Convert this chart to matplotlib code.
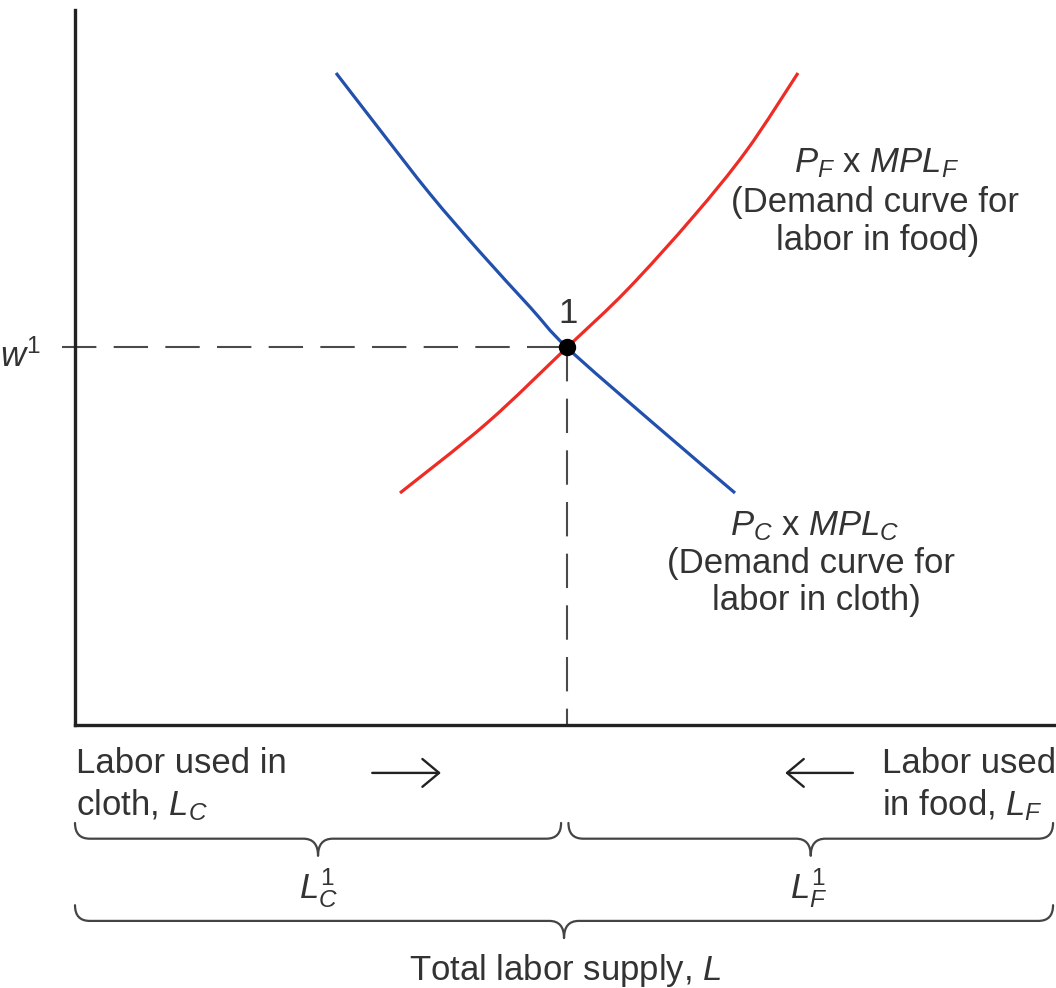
import matplotlib
matplotlib.use("Agg")
import matplotlib.pyplot as plt
from matplotlib.path import Path
from matplotlib.patches import PathPatch

plt.rcParams['font.family'] = ['Liberation Sans', 'DejaVu Sans']
plt.rcParams['mathtext.fontset'] = 'custom'
plt.rcParams['mathtext.rm'] = 'Liberation Sans'
plt.rcParams['mathtext.it'] = 'Liberation Sans:italic'
plt.rcParams['mathtext.bf'] = 'Liberation Sans:bold'

# ---- data (labor on x, wage on y) ----
L_TOTAL = 100.0
L_C1 = 50.15         # equilibrium labor in cloth
W1 = 52.8            # equilibrium wage

cloth_x = [26.61, 31.09, 36.19, 41.28, 46.38, 50.15, 58.92, 67.28]
cloth_y = [91.19, 83.22, 74.27, 66.15, 58.46, 52.80, 42.24, 32.45]

food_x = [33.13, 42.00, 50.15, 56.27, 63.00, 68.50, 73.70]
food_y = [32.45, 42.24, 52.80, 60.84, 71.05, 80.42, 91.19]

TXT = '#333333'
AX = '#222222'
DASH = '#4a4a4a'
BLUE = '#2150ad'
RED = '#ee2b24'
FS = 25

fig = plt.figure(figsize=(10.56, 9.88), dpi=100)
ax = fig.add_axes([75 / 1056, 263 / 988, 981 / 1056, 715 / 988])
ax.set_xlim(0, L_TOTAL)
ax.set_ylim(0, 100)
for s in ['top', 'right']:
    ax.spines[s].set_visible(False)
for s in ['left', 'bottom']:
    ax.spines[s].set_linewidth(2.4)
    ax.spines[s].set_color(AX)
ax.set_xticks([])
ax.set_yticks([])


def smooth_curve(xs, ys, color):
    """Draw a smooth (Catmull-Rom) curve through the given points."""
    pts = list(zip(xs, ys))
    n = len(pts)
    verts = [pts[0]]
    codes = [Path.MOVETO]
    for i in range(n - 1):
        p0 = pts[i - 1] if i > 0 else pts[i]
        p1 = pts[i]
        p2 = pts[i + 1]
        p3 = pts[i + 2] if i + 2 < n else pts[i + 1]
        c1 = (p1[0] + (p2[0] - p0[0]) / 6, p1[1] + (p2[1] - p0[1]) / 6)
        c2 = (p2[0] - (p3[0] - p1[0]) / 6, p2[1] - (p3[1] - p1[1]) / 6)
        verts += [c1, c2, p2]
        codes += [Path.CURVE4] * 3
    ax.add_patch(PathPatch(Path(verts, codes), fill=False, ec=color, lw=2.3,
                           capstyle='butt', zorder=3))


smooth_curve(cloth_x, cloth_y, BLUE)
smooth_curve(food_x, food_y, RED)

# dashed guides
ax.plot([-1.35, L_C1], [W1, W1], color=DASH, lw=1.5,
        linestyle=(0, (16.5, 8.3)), clip_on=False, zorder=2)
ax.plot([L_C1, L_C1], [W1, 0], color=DASH, lw=1.5,
        linestyle=(0, (16.5, 8.3)), zorder=2)

# equilibrium point
ax.plot([L_C1], [W1], 'o', color='black', ms=11.5, zorder=5)
ax.text(L_C1 + 0.1, W1 + 3.4, '1', fontsize=FS, color=TXT, ha='center',
        va='baseline')

# w^1
ax.text(-3.5, W1 - 2.7, r'$w^1$', fontsize=FS, color=TXT, ha='right',
        va='baseline', clip_on=False)

# curve labels
ax.text(81.7, 77.3, r'$P_F$ x $MPL_F$', fontsize=FS, color=TXT, ha='center',
        va='baseline')
ax.text(81.6, 71.7, '(Demand curve for', fontsize=FS, color=TXT, ha='center',
        va='baseline')
ax.text(81.8, 66.4, 'labor in food)', fontsize=FS, color=TXT, ha='center',
        va='baseline')

ax.text(75.4, 26.6, r'$P_C$ x $MPL_C$', fontsize=FS, color=TXT, ha='center',
        va='baseline')
ax.text(75.0, 21.3, '(Demand curve for', fontsize=FS, color=TXT, ha='center',
        va='baseline')
ax.text(75.6, 16.1, 'labor in cloth)', fontsize=FS, color=TXT, ha='center',
        va='baseline')

# bottom labels
ax.text(0.1, -6.7, 'Labor used in', fontsize=FS, color=TXT, ha='left',
        va='baseline', clip_on=False)
ax.text(0.1, -12.6, r'cloth, $L_C$', fontsize=FS, color=TXT, ha='left',
        va='baseline', clip_on=False)
ax.text(82.3, -6.7, 'Labor used', fontsize=FS, color=TXT, ha='left',
        va='baseline', clip_on=False)
ax.text(82.3, -12.6, r'in food, $L_F$', fontsize=FS, color=TXT, ha='left',
        va='baseline', clip_on=False)

arrow_kw = dict(arrowstyle='->,head_length=0.6,head_width=0.5', lw=1.7,
                color=AX, shrinkA=0, shrinkB=0, mutation_scale=20)
ax.annotate('', xy=(37.3, -6.7), xytext=(30.3, -6.7), arrowprops=arrow_kw,
            annotation_clip=False)
ax.annotate('', xy=(72.4, -6.7), xytext=(79.3, -6.7), arrowprops=arrow_kw,
            annotation_clip=False)


def brace(x0, x1, y_top, y_line, y_tip, rx=1.5, tx=1.5):
    xm = (x0 + x1) / 2
    verts = [(x0, y_top), (x0, y_line), (x0 + rx, y_line),
             (xm - tx, y_line),
             (xm, y_line), (xm, y_tip),
             (xm, y_line), (xm + tx, y_line),
             (x1 - rx, y_line),
             (x1, y_line), (x1, y_top)]
    codes = [Path.MOVETO, Path.CURVE3, Path.CURVE3,
             Path.LINETO,
             Path.CURVE3, Path.CURVE3,
             Path.CURVE3, Path.CURVE3,
             Path.LINETO,
             Path.CURVE3, Path.CURVE3]
    p = PathPatch(Path(verts, codes), fill=False, lw=1.6, ec='#444444',
                  clip_on=False, capstyle='round', joinstyle='round')
    ax.add_patch(p)


brace(0.0, L_C1 - 0.6, -13.7, -15.9, -18.3)
brace(L_C1 + 0.15, L_TOTAL - 0.3, -13.7, -15.9, -18.3)
brace(0.0, L_TOTAL - 0.3, -25.2, -27.4, -29.8)

ax.text(24.8, -24.2, r'$L_C^1$', fontsize=FS, color=TXT, ha='center',
        va='baseline', clip_on=False)
ax.text(74.8, -24.2, r'$L_F^1$', fontsize=FS, color=TXT, ha='center',
        va='baseline', clip_on=False)
ax.text(50.0, -35.7, r'Total labor supply, $L$', fontsize=FS, color=TXT,
        ha='center', va='baseline', clip_on=False)

fig.savefig('out.png', dpi=100)
